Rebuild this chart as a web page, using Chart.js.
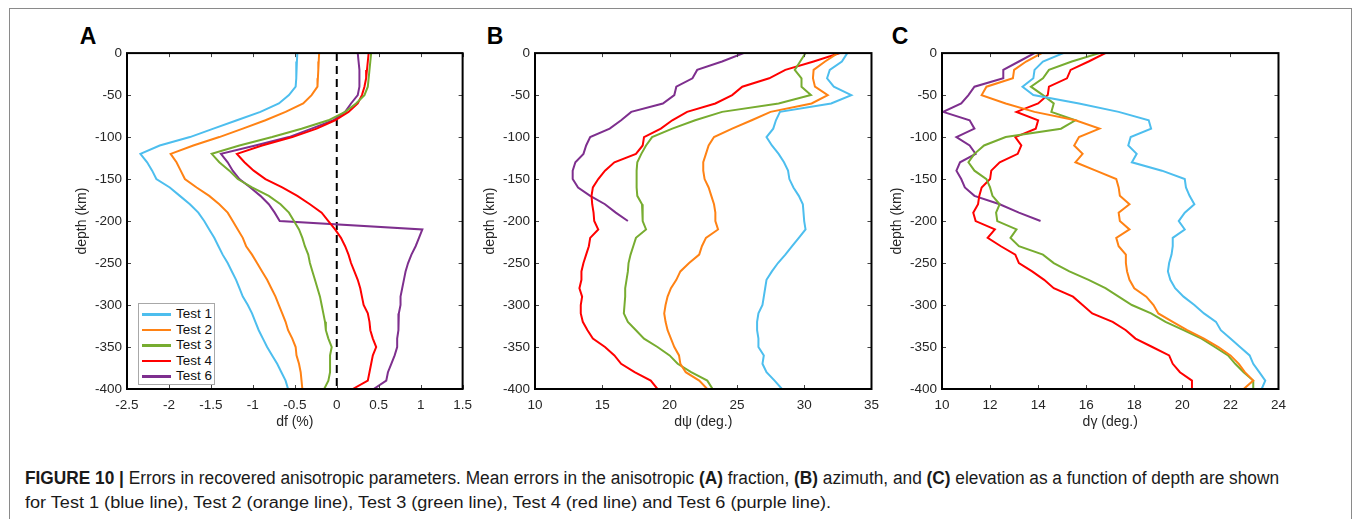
<!DOCTYPE html>
<html>
<head>
<meta charset="utf-8">
<script src="https://cdn.jsdelivr.net/npm/chart.js@4.4.1/dist/chart.umd.min.js"></script>
<style>
  body { margin: 0; background: #fff; width: 1355px; height: 519px; overflow: hidden; position: relative;
         font-family: "Liberation Sans", Arial, sans-serif; color: #1a1a1a; }
  .frame { position: absolute; left: 9px; top: 8px; width: 1341px; height: 540px; border: 1px solid #8a8a8a; border-bottom: none; }
  canvas { position: absolute; }
  .letter { position: absolute; font-weight: bold; font-size: 23px; line-height: 1; transform: translate(-50%, -50%); color: #000; }
  .legend { position: absolute; left: 138px; top: 303px; width: 77px; height: 82px; border: 1px solid #a8a8a8;
            background: #fff; box-sizing: border-box; }
  .legend .item { position: absolute; left: 3px; height: 16px; font-size: 13.5px; line-height: 16px; color: #111; white-space: nowrap; }
  .legend .swatch { position: absolute; left: 0; top: 7px; width: 29px; height: 2.5px; }
  .legend .txt { position: absolute; left: 34px; top: 0; }
  .caption { position: absolute; left: 25px; white-space: nowrap; line-height: 20px; transform-origin: 0 50%; color: #1a1a1a; }
</style>
</head>
<body>
<div class="frame"></div>
<div class="letter" style="left:88px; top:36px;">A</div>
<div class="letter" style="left:495px; top:36px;">B</div>
<div class="letter" style="left:900px; top:36px;">C</div>
<canvas id="chartA"></canvas>
<canvas id="chartB"></canvas>
<canvas id="chartC"></canvas>
<div class="legend" id="legendA"></div>
<div class="caption" id="cap1" style="top:468px; font-size:18px;"><b>FIGURE 10 |</b> Errors in recovered anisotropic parameters. Mean errors in the anisotropic <b>(A)</b> fraction, <b>(B)</b> azimuth, and <b>(C)</b> elevation as a function of depth are shown</div>
<div class="caption" id="cap2" style="top:493px; font-size:16px;">for Test 1 (blue line), Test 2 (orange line), Test 3 (green line), Test 4 (red line) and Test 6 (purple line).</div>

<script>
// depth (km), every 10 km
const depths = [0, -10, -20, -30, -40, -50, -60, -70, -80, -90, -100, -110, -120, -130, -140, -150, -160, -170, -180, -190, -200,
  -210, -220, -230, -240, -250, -260, -270, -280, -290, -300, -310, -320, -330, -340, -350, -360, -370, -380, -390, -400];

const testNames = ['Test 1', 'Test 2', 'Test 3', 'Test 4', 'Test 6'];
const testColors = ['#4DBEEE', '#FF8214', '#77AC30', '#FF0000', '#7E2F8E'];

// panel A: df (%)
const dfTest1 = [-0.47, -0.475, -0.48, -0.485, -0.49, -0.57, -0.69, -0.91, -1.19, -1.47, -1.75, -2.11, -2.34, -2.26, -2.2, -2.15, -1.99, -1.87, -1.75, -1.65, -1.58,
  -1.52, -1.46, -1.41, -1.36, -1.30, -1.25, -1.20, -1.16, -1.12, -1.06, -1.01, -0.97, -0.93, -0.88, -0.83, -0.77, -0.71, -0.66, -0.61, -0.58];
const dfTest2 = [-0.21, -0.215, -0.22, -0.225, -0.23, -0.30, -0.40, -0.61, -0.85, -1.12, -1.40, -1.71, -1.98, -1.91, -1.86, -1.81, -1.67, -1.52, -1.40, -1.30, -1.24,
  -1.18, -1.12, -1.08, -1.01, -0.95, -0.89, -0.83, -0.78, -0.73, -0.69, -0.65, -0.61, -0.58, -0.53, -0.49, -0.48, -0.45, -0.43, -0.42, -0.41];
const dfTest3 = [0.41, 0.40, 0.39, 0.38, 0.37, 0.33, 0.23, 0.10, -0.10, -0.42, -0.77, -1.16, -1.49, -1.40, -1.28, -1.18, -1.01, -0.81, -0.67, -0.57, -0.51,
  -0.45, -0.41, -0.38, -0.34, -0.32, -0.29, -0.26, -0.23, -0.20, -0.18, -0.16, -0.14, -0.13, -0.10, -0.06, -0.08, -0.08, -0.08, -0.10, -0.15];
const dfTest4 = [0.38, 0.37, 0.36, 0.35, 0.33, 0.30, 0.25, 0.14, -0.02, -0.24, -0.53, -0.89, -1.19, -1.10, -0.99, -0.85, -0.65, -0.47, -0.32, -0.18, -0.10,
  -0.02, 0.05, 0.10, 0.14, 0.17, 0.21, 0.25, 0.28, 0.30, 0.32, 0.37, 0.39, 0.40, 0.43, 0.47, 0.43, 0.41, 0.39, 0.37, 0.19];
const dfTest6 = [0.25, 0.26, 0.27, 0.27, 0.27, 0.25, 0.17, 0.10, -0.04, -0.30, -0.57, -0.97, -1.38, -1.30, -1.24, -1.16, -1.03, -0.91, -0.81, -0.74, -0.68,
  1.02, 0.98, 0.94, 0.89, 0.85, 0.82, 0.80, 0.78, 0.76, 0.76, 0.74, 0.74, 0.73, 0.72, 0.72, 0.69, 0.65, 0.61, 0.59, 0.44];

// panel B: d psi (deg.)
const dpsiTest1 = [33.2, 32.8, 31.9, 31.7, 32.2, 33.5, 32.0, 28.2, 27.9, 27.7, 27.2, 27.6, 28.1, 28.5, 28.8, 28.9, 29.2, 29.6, 29.9, 29.95, 30.0,
  30.1, 29.6, 29.1, 28.6, 28.05, 27.6, 27.2, 27.1, 27.0, 26.9, 26.6, 26.5, 26.5, 26.6, 26.6, 27.0, 26.9, 27.2, 27.8, 28.35];
const dpsiTest2 = [32.5, 31.55, 30.7, 30.65, 30.8, 31.75, 30.55, 27.5, 26.1, 24.65, 23.3, 22.9, 22.7, 22.5, 22.5, 22.6, 22.9, 23.1, 23.3, 23.4, 23.4,
  23.6, 22.7, 22.4, 22.2, 21.45, 20.8, 20.5, 20.1, 19.85, 19.7, 19.6, 19.7, 19.85, 20.1, 20.35, 20.7, 20.8, 21.2, 22.2, 22.8];
const dpsiTest3 = [30.1, 29.7, 29.3, 29.8, 29.8, 30.5, 28.1, 23.9, 21.9, 20.2, 18.7, 18.25, 17.9, 17.6, 17.55, 17.55, 17.55, 17.6, 17.95, 18.0, 18.0,
  18.25, 17.5, 17.3, 17.1, 16.95, 16.9, 16.8, 16.7, 16.7, 16.65, 16.6, 16.9, 17.5, 18.1, 19.1, 20.0, 20.6, 21.6, 22.8, 23.2];
const dpsiTest4 = [32.65, 30.7, 28.6, 27.4, 25.4, 24.65, 23.4, 21.3, 20.2, 19.35, 18.1, 18.0, 17.5, 15.9, 15.2, 14.7, 14.3, 14.2, 14.25, 14.35, 14.4,
  14.7, 14.1, 14.0, 13.8, 13.6, 13.45, 13.45, 13.3, 13.5, 13.4, 13.4, 13.55, 13.9, 14.3, 15.2, 15.9, 16.4, 17.4, 18.6, 19.1];
const dpsiTest6 = [25.5, 23.9, 22.05, 21.7, 20.5, 20.35, 19.5, 17.15, 16.4, 15.55, 14.1, 13.8, 13.6, 13.0, 12.8, 12.8, 13.2, 14.1, 15.2, 16.0, 16.9];

// panel C: d gamma (deg.)
const dgamTest1 = [15.05, 14.2, 13.85, 13.8, 13.35, 13.8, 15.7, 17.35, 18.6, 18.7, 17.85, 17.75, 18.1, 17.9, 19.15, 20.1, 20.15, 20.3, 20.5, 20.1, 19.85,
  20.1, 19.6, 19.6, 19.55, 19.45, 19.4, 19.5, 19.7, 20.05, 20.5, 20.9, 21.4, 21.6, 22.0, 22.4, 22.8, 22.95, 23.2, 23.45, 23.3];
const dgamTest2 = [14.15, 13.5, 13.0, 12.95, 11.85, 11.65, 12.65, 13.85, 15.55, 16.55, 15.7, 15.5, 15.85, 15.55, 16.4, 17.25, 17.35, 17.4, 17.8, 17.35, 17.4,
  17.8, 17.25, 17.35, 17.65, 17.65, 17.7, 17.8, 18.0, 18.5, 18.8, 19.0, 19.6, 20.2, 20.9, 21.5, 22.0, 22.35, 22.6, 22.95, 22.55];
const dgamTest3 = [16.55, 15.4, 14.45, 14.2, 13.7, 14.2, 14.65, 14.55, 15.55, 14.95, 12.65, 11.75, 11.35, 11.1, 11.35, 11.85, 12.0, 12.1, 12.4, 12.25, 12.3,
  13.1, 12.85, 13.2, 14.2, 14.65, 15.3, 16.1, 16.8, 17.35, 17.9, 18.7, 19.3, 20.05, 20.8, 21.35, 21.9, 22.2, 22.55, 22.95, 22.95];
const dgamTest4 = [16.8, 16.1, 15.35, 15.2, 14.45, 14.4, 14.0, 13.1, 14.0, 13.9, 13.05, 13.3, 13.15, 12.4, 12.05, 12.0, 11.65, 11.55, 11.5, 11.3, 11.4,
  12.2, 11.9, 12.45, 13.05, 13.2, 13.75, 14.25, 14.65, 15.45, 15.85, 16.25, 17.1, 17.65, 18.05, 18.75, 19.45, 19.6, 19.9, 20.4, 20.4];
const dgamTest6 = [13.85, 13.2, 12.55, 12.55, 11.35, 11.1, 10.8, 10.05, 11.15, 11.35, 10.6, 11.15, 11.4, 10.75, 10.6, 10.8, 10.95, 11.35, 12.4, 13.2, 14.1];

// build {x, y} points (value vs depth)
function profile(values) {
  return values.map((v, i) => ({ x: v, y: depths[i] }));
}

// closed box + inward tick marks on all four sides
const boxPlugin = {
  id: 'box',
  afterDatasetsDraw(chart) {
    const { ctx, chartArea: a, scales: { x, y } } = chart;
    ctx.save();
    ctx.strokeStyle = '#444';
    ctx.lineWidth = 1;
    ctx.beginPath();
    x.ticks.forEach(t => {
      const px = Math.round(x.getPixelForValue(t.value)) + 0.5;
      ctx.moveTo(px, a.bottom); ctx.lineTo(px, a.bottom - 4);
      ctx.moveTo(px, a.top); ctx.lineTo(px, a.top + 4);
    });
    y.ticks.forEach(t => {
      const py = Math.round(y.getPixelForValue(t.value)) + 0.5;
      ctx.moveTo(a.left, py); ctx.lineTo(a.left + 4, py);
      ctx.moveTo(a.right, py); ctx.lineTo(a.right - 4, py);
    });
    ctx.stroke();
    ctx.strokeStyle = '#000';
    ctx.lineWidth = 2;
    ctx.strokeRect(a.left, a.top, a.right - a.left, a.bottom - a.top);
    ctx.restore();
  }
};

const yAxisW = 53, xAxisH = 42, padTop = 10, padRight = 14;
const tickFont = { family: 'Liberation Sans', size: 13.5 };
const titleFont = { family: 'Liberation Sans', size: 14 };

function makePanel(id, plotLeft, plotRight, xMin, xMax, xStep, xTitle, series, extra) {
  const canvas = document.getElementById(id);
  const w = plotRight - plotLeft + yAxisW + padRight;
  const h = 339 + padTop + xAxisH;
  canvas.width = w;
  canvas.height = h;
  canvas.style.left = (plotLeft - yAxisW) + 'px';
  canvas.style.top = (50 - padTop) + 'px';

  const datasets = series.map((vals, i) => ({
    label: testNames[i],
    data: profile(vals),
    borderColor: testColors[i],
    backgroundColor: testColors[i],
    borderWidth: 2,
    showLine: true,
    pointRadius: 0,
    tension: 0
  }));
  if (extra) datasets.push(extra);

  return new Chart(canvas, {
    type: 'scatter',
    data: { datasets },
    options: {
      responsive: false,
      animation: false,
      layout: { padding: { top: padTop, right: padRight, left: 0, bottom: 0 } },
      plugins: { legend: { display: false }, tooltip: { enabled: false } },
      scales: {
        x: {
          type: 'linear',
          min: xMin,
          max: xMax,
          grid: { display: false, drawTicks: false },
          border: { display: false },
          ticks: { stepSize: xStep, autoSkip: false, maxRotation: 0, padding: 8, color: '#262626', font: tickFont,
                   callback: v => String(Math.round(v * 100) / 100) },
          title: { display: true, text: xTitle, color: '#262626', padding: { top: 0, bottom: 0 }, font: titleFont },
          afterFit(scale) { scale.height = xAxisH; }
        },
        y: {
          type: 'linear',
          min: -400,
          max: 0,
          grid: { display: false, drawTicks: false },
          border: { display: false },
          ticks: { stepSize: 50, padding: 5, color: '#262626', font: tickFont,
                   callback: v => String(v) },
          title: { display: true, text: 'depth (km)', color: '#262626', padding: { top: 0, bottom: 0 }, font: titleFont },
          afterFit(scale) { scale.width = yAxisW; }
        }
      }
    },
    plugins: [boxPlugin]
  });
}

const zeroLine = {
  label: 'zero',
  data: [{ x: 0, y: 0 }, { x: 0, y: -400 }],
  borderColor: '#000',
  borderWidth: 2,
  borderDash: [8, 5],
  showLine: true,
  pointRadius: 0
};

makePanel('chartA', 127, 466, -2.5, 1.5, 0.5, 'df (%)', [dfTest1, dfTest2, dfTest3, dfTest4, dfTest6], zeroLine);
makePanel('chartB', 535, 873, 10, 35, 5, 'd\u03C8 (deg.)', [dpsiTest1, dpsiTest2, dpsiTest3, dpsiTest4, dpsiTest6]);
makePanel('chartC', 942, 1280, 10, 24, 2, 'd\u03B3 (deg.)', [dgamTest1, dgamTest2, dgamTest3, dgamTest4, dgamTest6]);

// legend for panel A
const legend = document.getElementById('legendA');
testNames.forEach((name, i) => {
  const item = document.createElement('div');
  item.className = 'item';
  item.style.top = (2 + i * 15.5) + 'px';
  item.innerHTML = '<span class="swatch" style="background:' + testColors[i] + '"></span><span class="txt">' + name + '</span>';
  legend.appendChild(item);
});

// fit caption lines to the widths in the figure
function fitWidth(id, target) {
  const el = document.getElementById(id);
  const w = el.getBoundingClientRect().width;
  el.style.transform = 'scaleX(' + (target / w) + ')';
}
fitWidth('cap1', 1254);
fitWidth('cap2', 806);
</script>
</body>
</html>
